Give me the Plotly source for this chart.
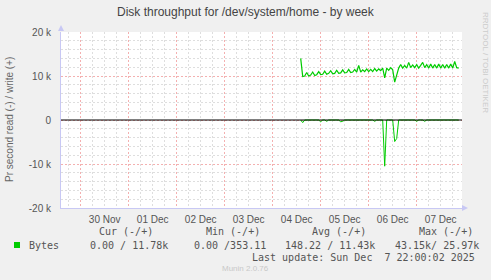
import pandas as pd
import plotly.graph_objects as go

# ---- data (hourly samples, values in bytes/s) ----
start_time = "2025-12-04 14:00"
write_k = [
    14.0, 9.9, 10.0, 10.8, 10.0, 10.2, 10.9, 10.1, 10.3, 11.0,          # 04 Dec 14-23
    10.3, 10.4, 11.1, 10.4, 10.6, 11.2, 10.5, 10.6, 11.3, 10.6, 10.7, 11.4,  # 05 Dec 00-11
    10.7, 10.8, 11.5, 10.8, 10.9, 11.5, 10.9, 12.4, 10.9, 11.4, 11.0, 11.6,  # 05 Dec 12-23
    11.0, 11.5, 11.0, 11.7, 11.1, 11.6, 11.2, 11.8, 9.6, 11.8, 11.3, 11.9,   # 06 Dec 00-11
    11.4, 8.6, 10.2, 11.8, 12.6, 11.8, 12.4, 11.8, 13.1, 11.9, 12.5, 11.9,   # 06 Dec 12-23
    12.6, 11.8, 12.4, 13.1, 11.9, 12.6, 11.8, 12.7, 11.8, 12.6, 11.8, 12.7,  # 07 Dec 00-11
    11.8, 12.6, 11.8, 12.6, 11.8, 12.7, 11.8, 13.3, 11.9, 11.78,             # 07 Dec 12-21
]
read_k = [
    0.0, 0.6, 0.0, 0.0, 0.0, 0.0, 0.0, 0.0, 0.0, 0.0,
    0.4, 0.0, 0.0, 0.3, 0.0, 0.0, 0.0, 0.0, 0.0, 0.0, 0.4, 0.3,
    0.0, 0.0, 0.0, 0.0, 0.0, 0.0, 0.0, 0.0, 0.0, 0.0, 0.0, 0.0,
    0.0, 0.0, 0.0, 0.3, 0.0, 0.0, 0.0, 0.0, 10.5, 0.0, 0.0, 0.0,
    0.0, 4.9, 4.2, 0.0, 0.0, 0.0, 0.0, 0.0, 0.0, 0.0, 0.0, 0.0,
    0.3, 0.0, 0.0, 0.0, 0.3, 0.0, 0.0, 0.0, 0.0, 0.0, 0.0, 0.0,
    0.0, 0.0, 0.0, 0.0, 0.0, 0.0, 0.0, 0.0, 0.0, 0.0,
]
y_tickvals = [-20000, -10000, 0, 10000, 20000]
y_ticktext = ["-20 k", "-10 k", "0", "10 k", "20 k"]

legend_headers = ["Cur (-/+)", "Min (-/+)", "Avg (-/+)", "Max (-/+)"]
legend_values = ["0.00 / 11.78k", "0.00 /353.11", "148.22 / 11.43k", "43.15k/ 25.97k"]
series_name = "Bytes"
last_update = "Last update: Sun Dec  7 22:00:02 2025"

times = pd.date_range(start_time, periods=len(write_k), freq="h")
write_vals = [v * 1000 for v in write_k]
read_vals = [-v * 1000 for v in read_k]

GREEN = "#00CC00"
L, R, T, B = 61, 462, 32, 208
W, H = 491, 280


def fx(px):
    return (px - L) / (R - L)


def fy(py):
    return (B - py) / (B - T)


fig = go.Figure()
fig.add_trace(go.Scatter(x=times, y=read_vals, mode="lines",
                         line=dict(color=GREEN, width=1), showlegend=False))
fig.add_trace(go.Scatter(x=times, y=write_vals, mode="lines",
                         line=dict(color=GREEN, width=1.2), showlegend=False))

mono = dict(family="DejaVu Sans Mono", size=10, color="#555555")
ann = []
# title
ann.append(dict(x=fx(246), y=fy(12), text="Disk throughput for /dev/system/home - by week",
                font=dict(family="Liberation Sans", size=12, color="#444444"),
                xanchor="center", yanchor="middle"))
# y title
ann.append(dict(x=fx(9), y=fy(120), text="Pr second read (-) / write (+)", textangle=-90,
                font=dict(family="Liberation Sans", size=10, color="#666666"),
                xanchor="center", yanchor="middle"))
# rrdtool
ann.append(dict(x=fx(485), y=fy(62), text="RRDTOOL / TOBI OETIKER", textangle=90,
                font=dict(family="Liberation Sans", size=8, color="#CCCCCC"),
                xanchor="center", yanchor="middle"))
# legend headers
for txt, px in zip(legend_headers, [97, 204, 310, 417]):
    ann.append(dict(x=fx(px), y=fy(232), text=txt, font=mono, xanchor="left", yanchor="middle"))
ann.append(dict(x=fx(27), y=fy(245), text=series_name, font=mono, xanchor="left", yanchor="middle"))
for txt, px in zip(legend_values, [88, 192, 283, 393]):
    ann.append(dict(x=fx(px), y=fy(245), text=txt, font=mono, xanchor="left", yanchor="middle"))
ann.append(dict(x=fx(477), y=fy(257), text=last_update, font=mono, xanchor="right", yanchor="middle"))
ann.append(dict(x=fx(245), y=fy(268), text="Munin 2.0.76",
                font=dict(family="Liberation Sans", size=8, color="#C8C8C8"),
                xanchor="center", yanchor="middle"))
for a in ann:
    a.update(xref="paper", yref="paper", showarrow=False)

AX = "#C8C8F4"
shapes = [
    # zero rule drawn above the data
    dict(type="line", xref="paper", yref="y", x0=0, x1=1, y0=0, y1=0,
         line=dict(color="#000000", width=1), layer="above"),
    dict(type="rect", xref="paper", yref="paper", x0=fx(14), x1=fx(20), y0=fy(248), y1=fy(242),
         fillcolor=GREEN, line=dict(width=0)),
    dict(type="path", xref="paper", yref="paper",
         path=f"M {fx(61)} {fy(25)} L {fx(58)} {fy(31)} L {fx(64)} {fy(31)} Z",
         fillcolor=AX, line=dict(width=0)),
    dict(type="path", xref="paper", yref="paper",
         path=f"M {fx(468)} {fy(208)} L {fx(462)} {fy(205)} L {fx(462)} {fy(211)} Z",
         fillcolor=AX, line=dict(width=0)),
]

fig.update_layout(
    width=W, height=H,
    margin=dict(l=L, r=W - R, t=T, b=H - B, pad=0),
    paper_bgcolor="#F0F0F0", plot_bgcolor="#FFFFFF",
    showlegend=False, annotations=ann, shapes=shapes,
    font=dict(family="Liberation Sans", size=10, color="#555555"),
)
fig.update_xaxes(
    type="date", range=["2025-11-29 14:09", "2025-12-07 22:39"],
    tick0="2025-11-30", dtick=86400000, tickformat="%d %b", ticklabelmode="period",
    showgrid=True, gridcolor="#F4B0B0", griddash="2px,2px", gridwidth=1,
    minor=dict(dtick=21600000, tick0="2025-11-30", showgrid=True, gridcolor="#DEDEDE",
               griddash="2px,2px"),
    showline=True, linecolor=AX, linewidth=1, ticks="", ticklabelstandoff=2,
    tickfont=dict(family="Liberation Sans", size=10, color="#555555"),
    zeroline=False, fixedrange=True,
)
fig.update_yaxes(
    range=[-20000, 20000], tickvals=y_tickvals, ticktext=y_ticktext,
    showgrid=True, gridcolor="#F4B0B0", griddash="2px,2px", gridwidth=1,
    minor=dict(dtick=2000, tick0=0, showgrid=True, gridcolor="#DEDEDE", griddash="2px,2px"),
    showline=True, linecolor=AX, linewidth=1, ticks="", ticklabelstandoff=7,
    tickfont=dict(family="Liberation Sans", size=10, color="#555555"),
    zeroline=False, fixedrange=True,
)

fig.write_html("out.html", config={"displayModeBar": False})
